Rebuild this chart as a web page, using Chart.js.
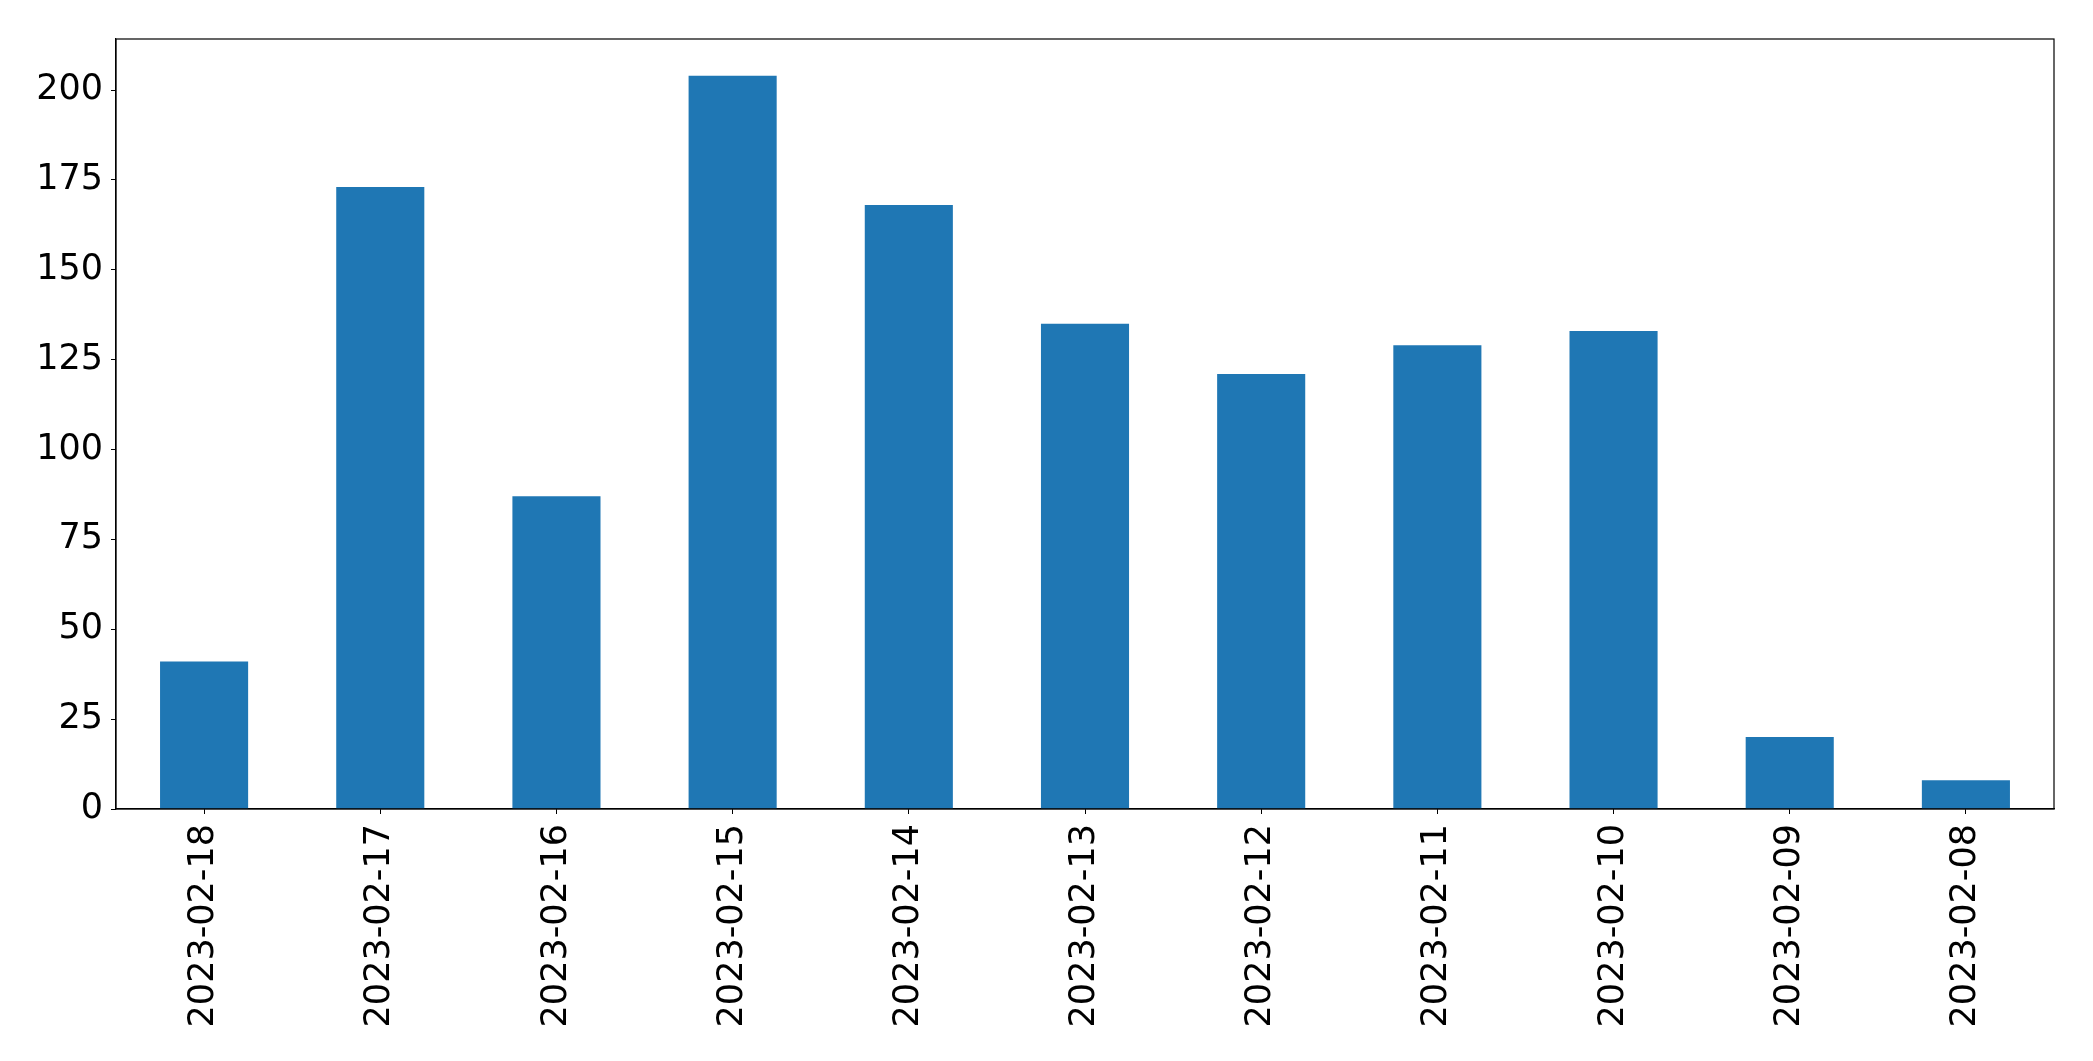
<!DOCTYPE html>
<html>
<head>
<meta charset="utf-8">
<script src="https://cdn.jsdelivr.net/npm/chart.js@4/dist/chart.umd.min.js"></script>
<style>
  html, body { margin: 0; padding: 0; background: #fff; }
  #wrap { width: 2093px; height: 1061px; }
</style>
</head>
<body>
<div id="wrap"><canvas id="bar-chart" width="2093" height="1061"></canvas></div>
<script>
// values
const dates = ['2023-02-18', '2023-02-17', '2023-02-16', '2023-02-15', '2023-02-14', '2023-02-13',
               '2023-02-12', '2023-02-11', '2023-02-10', '2023-02-09', '2023-02-08'];
const counts = [41, 173, 87, 204, 168, 135, 121, 129, 133, 20, 8];
const yTicks = [0, 25, 50, 75, 100, 125, 150, 175, 200];

const yMax = Math.max(...counts) * 1.05;

// box round the plot area, like the reference frame
const framePlugin = {
  id: 'frame',
  afterDraw(chart) {
    const a = chart.chartArea;
    const ctx = chart.ctx;
    ctx.save();
    ctx.strokeStyle = '#000';
    ctx.lineWidth = 1.2;
    ctx.strokeRect(a.left, a.top, a.right - a.left, a.bottom - a.top);
    ctx.restore();
  }
};

document.addEventListener('DOMContentLoaded', function () {
  const ctx = document.getElementById('bar-chart').getContext('2d');
  new Chart(ctx, {
    type: 'bar',
    data: {
      labels: dates,
      datasets: [{
        data: counts,
        backgroundColor: '#1f77b4',
        borderWidth: 0,
        barPercentage: 0.5,
        categoryPercentage: 1.0
      }]
    },
    options: {
      responsive: false,
      devicePixelRatio: 1,
      animation: false,
      layout: { padding: { top: 39, right: 39, left: 0, bottom: 0 } },
      plugins: { legend: { display: false }, tooltip: { enabled: false } },
      scales: {
        x: {
          grid: { offset: false, drawOnChartArea: false, drawTicks: true, tickLength: 5, color: '#000' },
          border: { color: '#000', width: 1.2 },
          ticks: {
            color: '#000',
            font: { family: 'DejaVu Sans', size: 35 },
            minRotation: 90,
            maxRotation: 90,
            padding: 10,
            autoSkip: false
          },
          afterFit(scale) { scale.height = 252; }
        },
        y: {
          min: 0,
          max: yMax,
          grid: { drawOnChartArea: false, drawTicks: true, tickLength: 5, color: '#000' },
          border: { color: '#000', width: 1.2 },
          afterBuildTicks(scale) { scale.ticks = yTicks.map(v => ({ value: v })); },
          ticks: {
            color: '#000',
            font: { family: 'DejaVu Sans', size: 35 },
            padding: 8
          },
          afterFit(scale) { scale.width = 116; }
        }
      }
    },
    plugins: [framePlugin]
  });
});
</script>
</body>
</html>
